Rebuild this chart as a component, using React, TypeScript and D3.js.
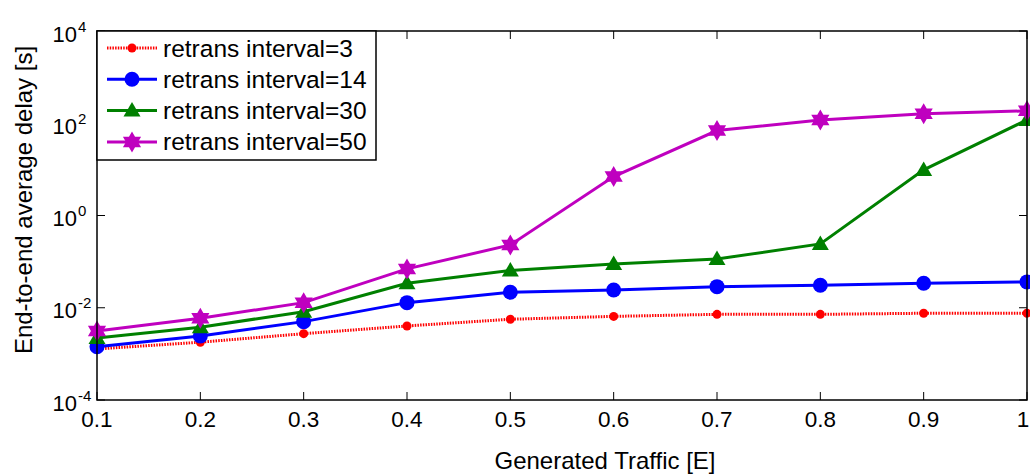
import React from 'react'
import * as d3 from 'd3'

// generated traffic (x) and end-to-end delay per retransmission interval
const traffic = [0.1, 0.2, 0.3, 0.4, 0.5, 0.6, 0.7, 0.8, 0.9, 1.0]
const delay3 = [1.28e-3, 1.79e-3, 2.74e-3, 4.03e-3, 5.63e-3, 6.5e-3, 7.2e-3, 7.2e-3, 7.6e-3, 7.6e-3]
const delay14 = [1.43e-3, 2.44e-3, 5.0e-3, 0.0129, 0.0217, 0.0243, 0.0287, 0.0308, 0.034, 0.0363]
const delay30 = [2.2e-3, 3.78e-3, 8.2e-3, 0.034, 0.064, 0.089, 0.114, 0.242, 9.75, 118]
const delay50 = [3.14e-3, 5.92e-3, 0.0129, 0.0695, 0.23, 6.98, 69.5, 118, 160, 186]

const seriesNames = ['retrans interval=3', 'retrans interval=14', 'retrans interval=30', 'retrans interval=50']
const xTicks = [0.1, 0.2, 0.3, 0.4, 0.5, 0.6, 0.7, 0.8, 0.9, 1]
const xTickLabels = ['0.1', '0.2', '0.3', '0.4', '0.5', '0.6', '0.7', '0.8', '0.9', '1']
const yExponents = [-4, -2, 0, 2, 4]

const font = '"Liberation Sans", Arial, Helvetica, sans-serif'

const W = 1030
const H = 475
const margin = { top: 31, right: 3, bottom: 75, left: 97 }

type Marker = 'dot' | 'circle' | 'triangle' | 'hexagram'

const series: { name: string; values: number[]; color: string; marker: Marker; dashed: boolean }[] = [
  { name: seriesNames[0], values: delay3, color: '#ff0000', marker: 'dot', dashed: true },
  { name: seriesNames[1], values: delay14, color: '#0000ff', marker: 'circle', dashed: false },
  { name: seriesNames[2], values: delay30, color: '#008000', marker: 'triangle', dashed: false },
  { name: seriesNames[3], values: delay50, color: '#bf00bf', marker: 'hexagram', dashed: false },
]

function hexagramPath(r: number) {
  const pts: [number, number][] = []
  for (let i = 0; i < 12; i++) {
    const a = (Math.PI / 6) * i - Math.PI / 2
    const rr = i % 2 === 0 ? r : r / Math.sqrt(3)
    pts.push([Math.cos(a) * rr, Math.sin(a) * rr])
  }
  return d3.line()(pts) + 'Z'
}

function MarkerShape({ kind, x, y, color }: { kind: Marker; x: number; y: number; color: string }) {
  if (kind === 'dot') return <circle cx={x} cy={y} r={4.5} fill={color} />
  if (kind === 'circle') return <circle cx={x} cy={y} r={7.5} fill={color} />
  if (kind === 'triangle') {
    const p = `M${x},${y - 8.5}L${x + 8.5},${y + 6}L${x - 8.5},${y + 6}Z`
    return <path d={p} fill={color} />
  }
  return <path d={hexagramPath(10.5)} transform={`translate(${x},${y})`} fill={color} />
}

export default function App() {
  const innerW = W - margin.left - margin.right
  const innerH = H - margin.top - margin.bottom
  const x = d3.scaleLinear().domain([0.1, 1]).range([margin.left, margin.left + innerW])
  const y = d3.scaleLog().domain([1e-4, 1e4]).range([margin.top + innerH, margin.top])

  const line = d3.line<number>()
    .x((_, i) => x(traffic[i]))
    .y(d => y(d))

  const left = margin.left
  const right = margin.left + innerW
  const top = margin.top
  const bottom = margin.top + innerH
  const tickLen = 8

  // legend box
  const lx = left
  const ly = top
  const lw = 279
  const lh = 129
  const rowY = (i: number) => ly + 17 + i * 31.3

  return (
    <svg width={W} height={H} style={{ position: 'absolute', left: 0, top: 0, background: '#fff' }}
      fontFamily={font}>
      <rect x={0} y={0} width={W} height={H} fill="#fff" />

      {/* ticks */}
      {xTicks.map(t => (
        <g key={'xt' + t} stroke="#000" strokeWidth={1}>
          <line x1={x(t)} x2={x(t)} y1={bottom} y2={bottom - tickLen} />
          <line x1={x(t)} x2={x(t)} y1={top} y2={top + tickLen} />
        </g>
      ))}
      {yExponents.map(e => (
        <g key={'yt' + e} stroke="#000" strokeWidth={1}>
          <line x1={left} x2={left + tickLen} y1={y(Math.pow(10, e))} y2={y(Math.pow(10, e))} />
          <line x1={right} x2={right - tickLen} y1={y(Math.pow(10, e))} y2={y(Math.pow(10, e))} />
        </g>
      ))}

      {/* series */}
      {series.map(s => (
        <g key={s.name}>
          <path d={line(s.values) || ''} fill="none" stroke={s.color} strokeWidth={3}
            strokeDasharray={s.dashed ? '1.5,1.2' : undefined} />
          {s.values.map((v, i) => (
            <MarkerShape key={i} kind={s.marker} x={x(traffic[i])} y={y(v)} color={s.color} />
          ))}
        </g>
      ))}

      {/* axes box */}
      <rect x={left} y={top} width={innerW} height={innerH} fill="none" stroke="#000" strokeWidth={1.5} />

      {/* tick labels */}
      {xTicks.map((t, i) => (
        <text key={'xl' + t} x={Math.min(x(t), W - 7)} y={bottom + 26.5} textAnchor="middle" fontSize={22.5} fill="#000">
          {xTickLabels[i]}
        </text>
      ))}
      {yExponents.map(e => {
        const yy = y(Math.pow(10, e))
        return (
          <g key={'yl' + e} fill="#000">
            <text x={77} y={yy + 10.5} textAnchor="end" fontSize={22}>10</text>
            <text x={78} y={yy + 0.5} fontSize={15}>{String(e)}</text>
          </g>
        )
      })}

      {/* axis titles */}
      <text x={605} y={469} textAnchor="middle" fontSize={24} fill="#000">Generated Traffic [E]</text>
      <text transform={`translate(32,200) rotate(-90)`} textAnchor="middle" fontSize={24} fill="#000">
        End-to-end average delay [s]
      </text>

      {/* legend */}
      <rect x={lx} y={ly} width={lw} height={lh} fill="#fff" stroke="#000" strokeWidth={1.5} />
      {series.map((s, i) => (
        <g key={'lg' + s.name}>
          <line x1={lx + 10} x2={lx + 60} y1={rowY(i)} y2={rowY(i)} stroke={s.color} strokeWidth={3}
            strokeDasharray={s.dashed ? '1.5,1.2' : undefined} />
          <MarkerShape kind={s.marker} x={lx + 35} y={rowY(i)} color={s.color} />
          <text x={lx + 66} y={rowY(i) + 8.5} fontSize={24.5} fill="#000">{s.name}</text>
        </g>
      ))}
    </svg>
  )
}
